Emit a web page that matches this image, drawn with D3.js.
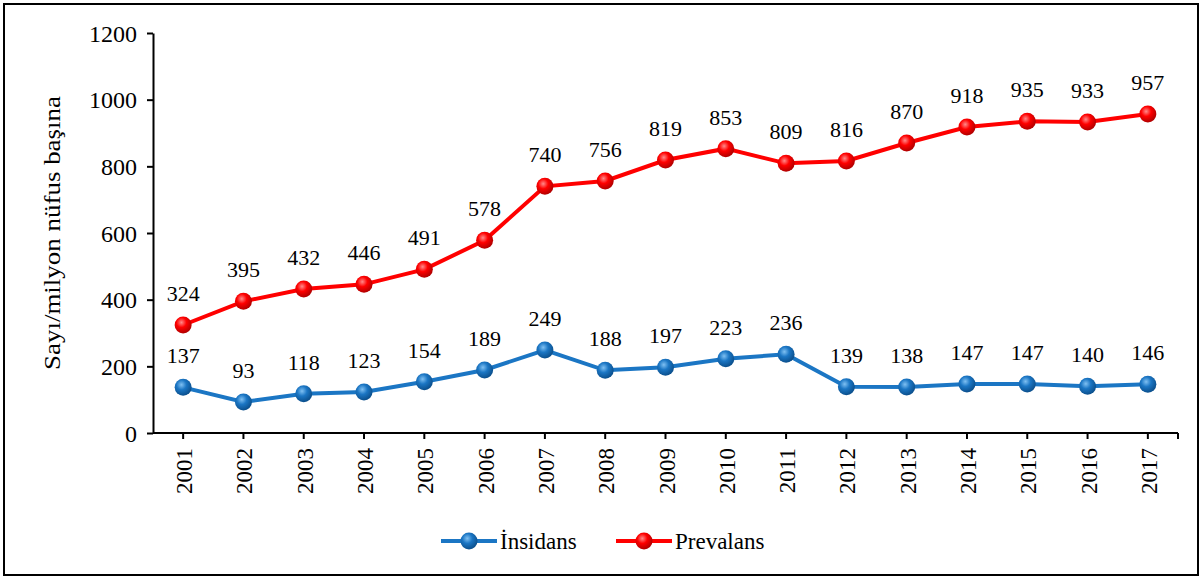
<!DOCTYPE html>
<html>
<head>
<meta charset="utf-8">
<script src="https://d3js.org/d3.v7.min.js"></script>
<style>
  body { margin: 0; background: #fff; }
  svg text { font-family: "Liberation Serif", "Times New Roman", serif; fill: #000; }
  .axis path, .axis line { stroke: #000; stroke-width: 2px; }
</style>
</head>
<body>
<svg width="1203" height="579"></svg>
<script>
// data
const years = ["2001","2002","2003","2004","2005","2006","2007","2008","2009","2010","2011","2012","2013","2014","2015","2016","2017"];
const insidans = [137, 93, 118, 123, 154, 189, 249, 188, 197, 223, 236, 139, 138, 147, 147, 140, 146];
const prevalans = [324, 395, 432, 446, 491, 578, 740, 756, 819, 853, 809, 816, 870, 918, 935, 933, 957];
const yTicks = [0, 200, 400, 600, 800, 1000, 1200];

const series = [
  {name: "İnsidans", values: insidans, color: "#1b76c4", dark: "#0b4f8c", light: "#7fc0f2"},
  {name: "Prevalans", values: prevalans, color: "#ff0000", dark: "#b00000", light: "#ff8a8a"}
];

const svg = d3.select("svg");

// outer frame
svg.append("rect")
  .attr("x", 4).attr("y", 4)
  .attr("width", 1194).attr("height", 571)
  .attr("fill", "none").attr("stroke", "#000").attr("stroke-width", 2);

const x = d3.scaleBand().domain(years).range([153, 1178]).padding(0);
const y = d3.scaleLinear().domain([0, 1200]).range([433, 33]);
const cx = d => x(d) + x.bandwidth() / 2;

// gradients for the ball markers
const defs = svg.append("defs");
series.forEach((s, i) => {
  const g = defs.append("radialGradient")
    .attr("id", "ball" + i).attr("cx", "40%").attr("cy", "35%").attr("r", "65%");
  g.append("stop").attr("offset", "0%").attr("stop-color", s.light);
  g.append("stop").attr("offset", "45%").attr("stop-color", s.color);
  g.append("stop").attr("offset", "100%").attr("stop-color", s.dark);
});

// y axis
const yAxis = svg.append("g")
  .attr("class", "axis")
  .attr("transform", "translate(153,0)")
  .call(d3.axisLeft(y).tickValues(yTicks).tickFormat(d3.format("d"))
    .tickSize(6).tickSizeOuter(0).tickPadding(10));
yAxis.attr("font-family", null);
yAxis.selectAll("text").style("font-size", "24px").attr("dy", "0.34em");

// x axis
const xAxis = svg.append("g")
  .attr("class", "axis")
  .attr("transform", "translate(0,433)");
xAxis.append("line")
  .attr("x1", 153).attr("x2", 1178).attr("y1", 0).attr("y2", 0)
  .attr("stroke", "#000").attr("stroke-width", 2);
xAxis.selectAll(".tk")
  .data(years)
  .enter().append("line")
  .attr("class", "tk")
  .attr("x1", d => cx(d)).attr("x2", d => cx(d))
  .attr("y1", 0).attr("y2", 6)
  .attr("stroke", "#000").attr("stroke-width", 2);
xAxis.append("line")
  .attr("x1", 1178).attr("x2", 1178).attr("y1", 0).attr("y2", 6)
  .attr("stroke", "#000").attr("stroke-width", 2);
xAxis.selectAll(".yl")
  .data(years)
  .enter().append("text")
  .attr("class", "yl")
  .attr("transform", d => `translate(${cx(d) + 9},15) rotate(-90)`)
  .attr("text-anchor", "end")
  .style("font-size", "23px")
  .text(d => d);

// y axis title
svg.append("text")
  .attr("transform", "translate(60,233) rotate(-90)")
  .attr("text-anchor", "middle")
  .attr("textLength", 274)
  .attr("lengthAdjust", "spacingAndGlyphs")
  .style("font-size", "24px")
  .text("Sayı/milyon nüfus başına");

// lines, markers and labels
const line = d3.line().x((d, i) => cx(years[i])).y(d => y(d));

series.forEach((s, si) => {
  svg.append("path")
    .datum(s.values)
    .attr("d", line)
    .attr("fill", "none")
    .attr("stroke", s.color)
    .attr("stroke-width", 4);

  svg.selectAll(".m" + si)
    .data(s.values)
    .enter().append("circle")
    .attr("class", "m" + si)
    .attr("cx", (d, i) => cx(years[i]))
    .attr("cy", d => y(d))
    .attr("r", 8.5)
    .attr("fill", `url(#ball${si})`);

  svg.selectAll(".l" + si)
    .data(s.values)
    .enter().append("text")
    .attr("class", "l" + si)
    .attr("x", (d, i) => cx(years[i]))
    .attr("y", d => y(d) - 24)
    .attr("text-anchor", "middle")
    .style("font-size", "22px")
    .text(d => d);
});

// legend
const legendX = [441, 616];
series.forEach((s, si) => {
  const g = svg.append("g").attr("transform", `translate(${legendX[si]},541)`);
  g.append("line")
    .attr("x1", 0).attr("x2", 56).attr("y1", 0).attr("y2", 0)
    .attr("stroke", s.color).attr("stroke-width", 4);
  g.append("circle")
    .attr("cx", 28).attr("cy", 0).attr("r", 8.5)
    .attr("fill", `url(#ball${si})`);
  g.append("text")
    .attr("x", 59).attr("y", 8)
    .style("font-size", "23px")
    .text(s.name);
});
</script>
</body>
</html>
